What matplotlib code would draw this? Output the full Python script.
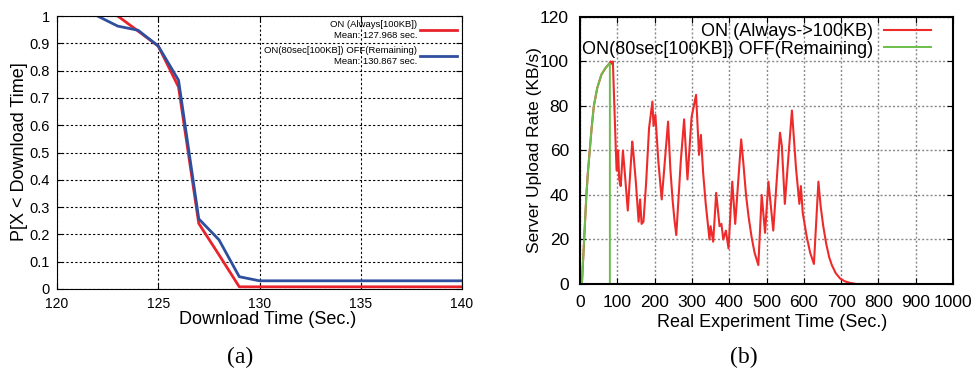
import numpy as np
import matplotlib
matplotlib.use("Agg")
import matplotlib.pyplot as plt

plt.rcParams['font.family'] = ['Liberation Sans', 'DejaVu Sans']

# (a) CDF of download time
dl_time_on = [123, 124, 125, 126, 127, 128, 129, 140]
cdf_on = [1.0, 0.945, 0.89, 0.74, 0.24, 0.125, 0.008, 0.008]
dl_time_onoff = [122, 123, 124, 125, 126, 127, 128, 129, 130, 140]
cdf_onoff = [1.0, 0.963, 0.948, 0.89, 0.765, 0.257, 0.18, 0.045, 0.03, 0.03]
label_on = "ON (Always[100KB])\nMean: 127.968 sec."
label_onoff = "ON(80sec[100KB]) OFF(Remaining)\nMean: 130.867 sec."

# (b) server upload rate over time
t_on = [5, 8, 11, 14, 17, 21, 26, 31, 37, 46, 57, 68, 78, 82, 85, 88,
        96, 98, 102, 105, 109, 115, 120, 128, 140, 143, 150, 157, 161, 165,
        170, 177, 185, 194, 197, 202, 210, 219, 236, 242, 248, 253, 258,
        270, 279, 288, 299, 311, 319, 324, 330, 337, 342, 347, 350, 357,
        365, 374, 379, 384, 391, 398, 408, 416, 432, 438, 445, 452, 460,
        468, 478, 487, 496, 505, 518, 536, 541, 549, 568, 579, 588, 592,
        597, 608, 617, 627, 639, 645, 652, 660, 668, 675, 685, 697, 710,
        724, 741, 900]
rate_on = [0, 10, 20, 30, 40, 50, 60, 70, 80, 88, 94, 97, 99, 100, 99, 100,
           60, 51, 60, 47, 44, 60, 50, 33, 64, 59, 45, 28, 38, 27,
           28, 45, 70, 82, 71, 76, 55, 38, 73, 52, 38, 29, 22,
           55, 74, 47, 75, 85, 58, 67, 50, 36, 28, 20, 26, 19,
           41, 26, 27, 20, 24, 16, 46, 27, 65, 54, 40, 30, 21,
           14, 8.5, 40, 23, 46, 24, 68, 62, 36, 78, 52, 36, 44,
           32, 21, 14, 9, 46, 35, 26, 18, 12, 8.5, 5, 2.5, 1.2,
           0.5, 0, 0]
t_onoff = [5, 8, 11, 14, 17, 21, 26, 31, 37, 46, 57, 68, 78, 80, 80]
rate_onoff = [0, 10, 20, 30, 40, 50, 60, 70, 80, 88, 94, 97, 99, 99, 0]
label_b_on = "ON (Always->100KB)"
label_b_onoff = "ON(80sec[100KB]) OFF(Remaining)"

fig = plt.figure(figsize=(9.76, 3.76), dpi=100)

# ---- left panel ----
ax1 = fig.add_axes([0.0584, 0.2314, 0.415, 0.726])
ax1.plot(dl_time_on, cdf_on, color='#e8232b', lw=2, label=label_on)
ax1.plot(dl_time_onoff, cdf_onoff, color='#2e4f9e', lw=2, label=label_onoff)
ax1.set_xlim(120, 140)
ax1.set_ylim(0, 1)
ax1.set_xticks(np.arange(120, 141, 5))
ax1.set_yticks(np.arange(0, 1.01, 0.1))
ax1.yaxis.set_major_formatter(matplotlib.ticker.FormatStrFormatter('%g'))
ax1.tick_params(direction='in', top=True, right=True, length=4)
ax1.tick_params(axis='y', labelsize=10.5, pad=5)
ax1.tick_params(axis='x', labelsize=10, pad=6)
ax1.grid(True, color='black', linestyle=(0, (2, 2)), lw=0.8)
ax1.set_xlabel("Download Time (Sec.)", fontsize=13)
ax1.set_ylabel("P[X < Download Time]", fontsize=13)
ax1.xaxis.set_label_coords(0.52, -0.08)
ax1.yaxis.set_label_coords(-0.071, 0.505)
leg1 = ax1.legend(loc='upper right', bbox_to_anchor=(0.988, 0.985),
                  fontsize=6.8, frameon=False, markerfirst=False,
                  handlelength=3.9, handletextpad=0.35, labelspacing=0.7,
                  borderpad=0, borderaxespad=0)
for t in leg1.get_texts():
    t.set_multialignment('right')

# ---- right panel ----
ax2 = fig.add_axes([0.5943, 0.2447, 0.3822, 0.7101])
ax2.plot(t_on, rate_on, color='#ee2b2b', lw=1.5, label=label_b_on)
ax2.plot(t_onoff, rate_onoff, color='#6cbf4c', lw=1.4, label=label_b_onoff)
ax2.set_xlim(0, 1000)
ax2.set_ylim(0, 120)
ax2.set_xticks(np.arange(0, 1001, 100))
ax2.set_yticks(np.arange(0, 121, 20))
ax2.tick_params(direction='in', top=True, right=True, length=4,
                labelsize=12.5)
ax2.tick_params(axis='x', pad=8)
ax2.tick_params(axis='y', pad=8)
ax2.grid(True, color='#888888', linestyle=(0, (1.5, 1.5)), lw=1)
for s in ax2.spines.values():
    s.set_linewidth(1.5)
ax2.set_xlabel("Real Experiment Time (Sec.)", fontsize=13)
ax2.set_ylabel("Server Upload Rate (KB/s)", fontsize=12.5)
ax2.xaxis.set_label_coords(0.515, -0.113)
ax2.yaxis.set_label_coords(-0.102, 0.5)
ax2.legend(loc='upper right', bbox_to_anchor=(0.94, 0.978),
           fontsize=13, frameon=False, markerfirst=False,
           handlelength=2.6, handletextpad=0.6, labelspacing=0.05,
           borderpad=0, borderaxespad=0)

fig.text(0.246, 0.048, "(a)", family='Liberation Serif', fontsize=17,
         ha='center', va='center')
fig.text(0.762, 0.048, "(b)", family='Liberation Serif', fontsize=17,
         ha='center', va='center')

fig.savefig("out.png", dpi=100)
